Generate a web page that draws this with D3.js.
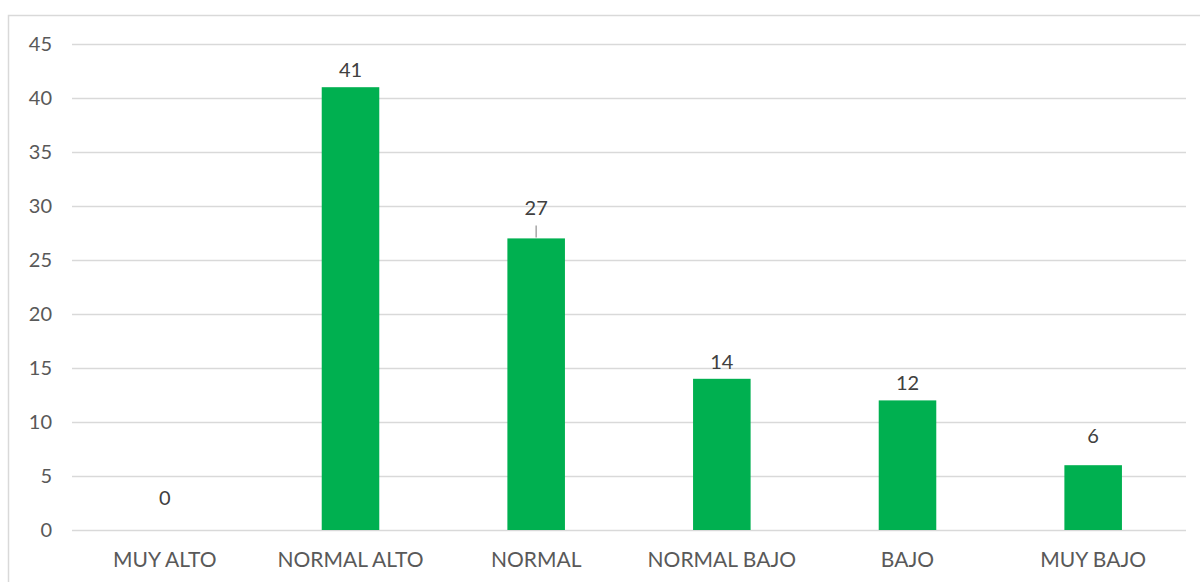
<!DOCTYPE html>
<html><head><meta charset="utf-8">
<script src="https://cdn.jsdelivr.net/npm/d3@7"></script>
<style>html,body{margin:0;padding:0;background:#fff;}svg{display:block;}</style>
</head><body>
<svg id="c" width="1200" height="582"></svg>
<script>
const categories = ["MUY ALTO","NORMAL ALTO","NORMAL","NORMAL BAJO","BAJO","MUY BAJO"];
const values = [0,41,27,14,12,6];
const yTicks = [0,5,10,15,20,25,30,35,40,45];

const svg = d3.select("#c");
const font = "Lato, 'Open Sans', sans-serif";
const m = {left:72, right:1186, top:44, bottom:530};

// chart border
svg.append("path").attr("d","M8.5,582 L8.5,15.5 L1200,15.5")
  .attr("fill","none").attr("stroke","#d9d9d9").attr("stroke-width",1.5);

const x = d3.scaleBand().domain(categories).range([m.left,m.right]).paddingInner(0.69).paddingOuter(0.345);
const y = d3.scaleLinear().domain([0,45]).range([m.bottom,m.top]);

const yAxis = d3.axisLeft(y).tickValues(yTicks).tickSize(-(m.right-m.left)).tickPadding(20);
const gy = svg.append("g").attr("transform",`translate(${m.left},0)`).call(yAxis);
gy.select(".domain").remove();
gy.selectAll(".tick line").attr("stroke","#d9d9d9").attr("stroke-width",1.5);
gy.selectAll(".tick text").attr("fill","#595959").style("font-family",font).style("font-size","20px");

const xAxis = d3.axisBottom(x).tickSize(0).tickPadding(22);
const gx = svg.append("g").attr("transform",`translate(0,${m.bottom})`).call(xAxis);
gx.select(".domain").remove();
gx.selectAll(".tick text").attr("fill","#595959").style("font-family",font).style("font-size","21px");

svg.append("g").selectAll("rect").data(values).join("rect")
  .attr("x",(d,i)=>x(categories[i])).attr("width",x.bandwidth())
  .attr("y",d=>y(d)).attr("height",d=>y(0)-y(d)).attr("fill","#00b050");

// leader line for "27"
svg.append("line").attr("x1",x("NORMAL")+x.bandwidth()/2).attr("x2",x("NORMAL")+x.bandwidth()/2)
  .attr("y1",y(27)-1).attr("y2",y(27)-13).attr("stroke","#a6a6a6").attr("stroke-width",1.5);

const offsets = [25,10,23,10,10,22];
svg.append("g").selectAll("text").data(values).join("text")
  .attr("x",(d,i)=>x(categories[i])+x.bandwidth()/2)
  .attr("y",(d,i)=>y(d)-offsets[i])
  .attr("text-anchor","middle").attr("fill","#404040")
  .style("font-family",font).style("font-size","20px").text(d=>d);
</script>
</body></html>
